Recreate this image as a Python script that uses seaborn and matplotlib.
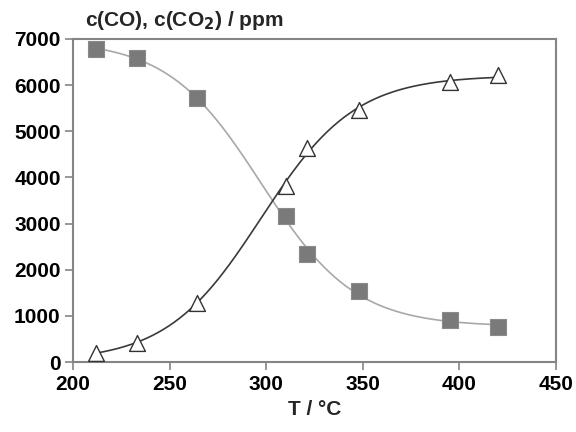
import numpy as np
import pandas as pd
import matplotlib
matplotlib.use("Agg")
import matplotlib.pyplot as plt
import seaborn as sns

# Measured concentrations versus temperature
temperature = [212, 233, 264, 310, 321, 348, 395, 420]
c_co = [6780, 6580, 5720, 3160, 2340, 1540, 900, 760]
c_co2 = [200, 420, 1280, 3820, 4640, 5450, 6060, 6220]

x_ticks = [200, 250, 300, 350, 400, 450]
y_ticks = [0, 1000, 2000, 3000, 4000, 5000, 6000, 7000]


def sigmoid(p, t):
    low_t_level, high_t_level, t_mid, width = p
    return high_t_level + (low_t_level - high_t_level) / (1.0 + np.exp((t - t_mid) / width))


def fit_sigmoid(t, y, p0, n_iter=300):
    """Levenberg-Marquardt least squares for the four-parameter sigmoid."""
    t = np.asarray(t, float)
    y = np.asarray(y, float)
    p = np.asarray(p0, float)
    lam = 1e-3
    cost = np.sum((y - sigmoid(p, t)) ** 2)
    for _ in range(n_iter):
        r = y - sigmoid(p, t)
        J = np.empty((t.size, p.size))
        for k in range(p.size):
            h = 1e-6 * max(abs(p[k]), 1.0)
            dp = np.zeros_like(p)
            dp[k] = h
            J[:, k] = (sigmoid(p + dp, t) - sigmoid(p - dp, t)) / (2 * h)
        A = J.T @ J
        g = J.T @ r
        step = np.linalg.solve(A + lam * np.diag(np.diag(A)), g)
        new_cost = np.sum((y - sigmoid(p + step, t)) ** 2)
        if new_cost < cost:
            p = p + step
            cost = new_cost
            lam = max(lam / 10, 1e-12)
        else:
            lam *= 10
    return p


sns.set_style("ticks")
plt.rcParams["font.family"] = ["Liberation Sans", "DejaVu Sans"]

fig = plt.figure(figsize=(5.76, 4.32), dpi=100)
ax = fig.add_axes([0.127, 0.162, 0.838, 0.748])

# Sigmoidal trend lines fitted to the measured points
t_fit = np.linspace(min(temperature), max(temperature), 300)
p_co = fit_sigmoid(temperature, c_co, [6850, 650, 305, 22])
p_co2 = fit_sigmoid(temperature, c_co2, [250, 6200, 300, 25])
fits = pd.DataFrame({"T": t_fit,
                     "CO": sigmoid(p_co, t_fit),
                     "CO2": sigmoid(p_co2, t_fit)})
pts = pd.DataFrame({"T": temperature, "CO": c_co, "CO2": c_co2})

sns.lineplot(data=fits, x="T", y="CO", ax=ax, color="#a8a8a8", lw=1.2)
sns.lineplot(data=fits, x="T", y="CO2", ax=ax, color="#3a3a3a", lw=1.2)
sns.scatterplot(data=pts, x="T", y="CO", ax=ax, marker="s", s=120,
                color="#7a7a7a", edgecolor="#8a8a8a", linewidth=0.8, zorder=3)
sns.scatterplot(data=pts, x="T", y="CO2", ax=ax, marker="^", s=130,
                color="white", edgecolor="#333333", linewidth=1.0, zorder=3)

ax.set_xlim(200, 450)
ax.set_ylim(0, 7000)
ax.set_xticks(x_ticks)
ax.set_yticks(y_ticks)
ax.set_xticklabels([str(v) for v in x_ticks], fontsize=15, fontweight="bold")
ax.set_yticklabels([str(v) for v in y_ticks], fontsize=15, fontweight="bold")
ax.set_xlabel("T / °C", fontsize=15, fontweight="bold", labelpad=5)
ax.set_ylabel("")
ax.text(0.025, 1.02, "c(CO), c(CO$_\\mathbf{2}$) / ppm", transform=ax.transAxes,
        fontsize=15, fontweight="bold", ha="left", va="bottom")

for sp in ax.spines.values():
    sp.set_color("#858585")
    sp.set_linewidth(1.5)
ax.tick_params(axis="both", colors="#858585", length=6, width=1.2,
               labelcolor="black", pad=3)

fig.savefig("out.png", dpi=100)
